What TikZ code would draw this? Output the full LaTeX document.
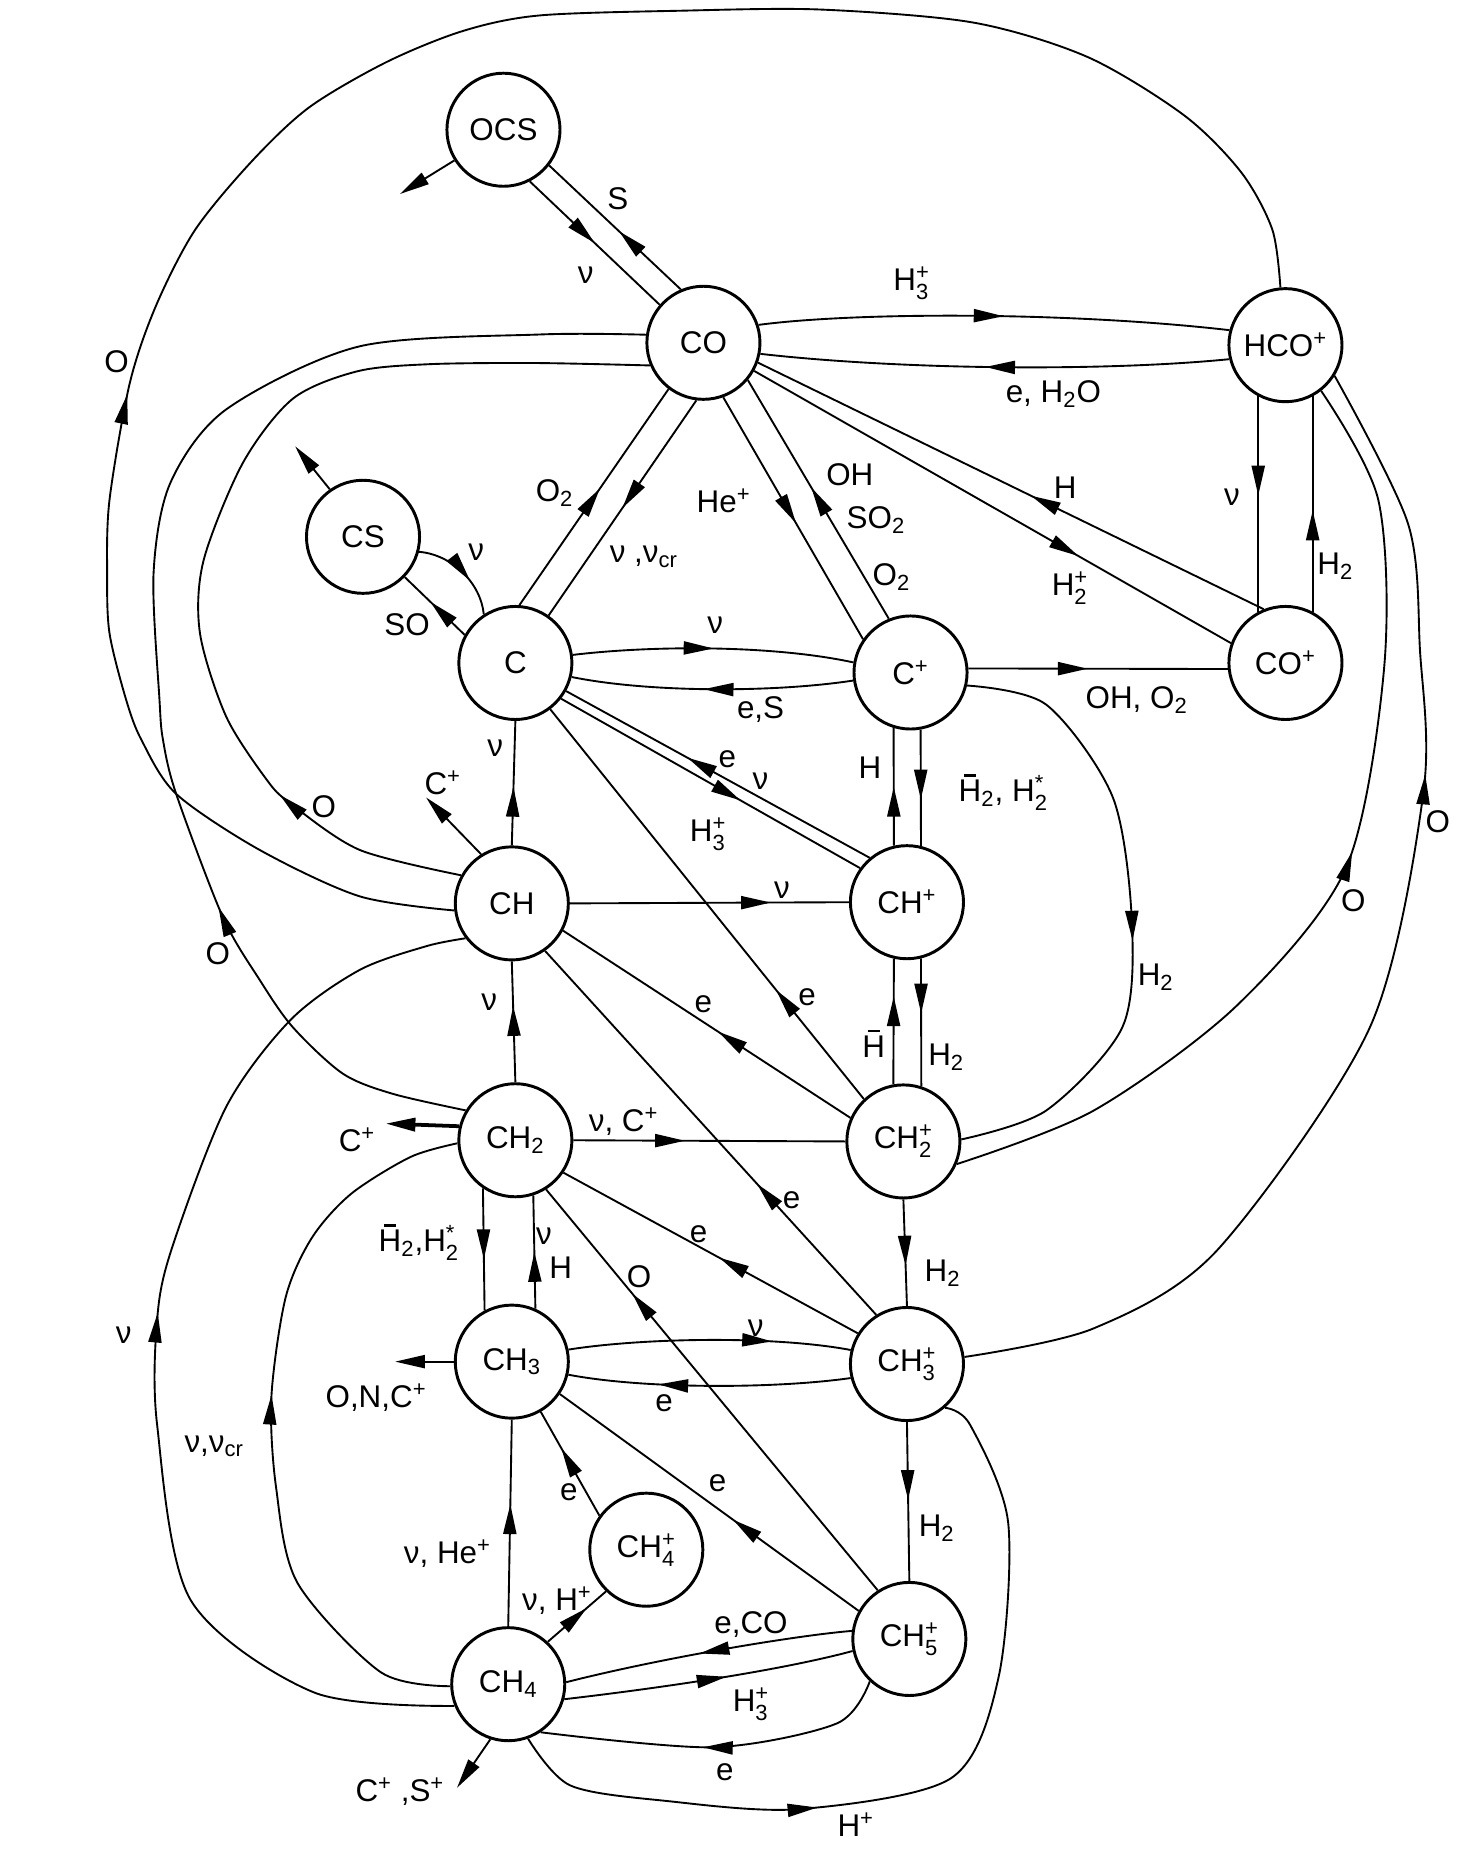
\documentclass[tikz,border=0pt]{standalone}
\usepackage{fontspec}
\usepackage{amsmath}
\setmainfont{Liberation Sans}
\usetikzlibrary{arrows.meta,decorations.markings}
\newcommand\chsub[1]{\ensuremath{_{\text{#1}}}}
\newcommand\chsup[1]{\ensuremath{^{\text{#1}}}}
\newcommand\chsubsup[2]{\ensuremath{_{\text{#1}}^{\text{#2}}}}
\newcommand\barH{\leavevmode\rlap{\hspace{0.17em}\raisebox{0.8em}{\rule{0.38em}{0.07em}}}H}
\begin{document}
\begin{tikzpicture}[x=0.2mm, y=-0.2mm, line width=0.9pt,
  font=\fontsize{15}{17}\selectfont,
  spec/.style={circle, draw, line width=1.4pt, minimum size=19mm, inner sep=0pt},
  lab/.style={inner sep=0pt},
  flow/.style={postaction={decorate}, decoration={markings,
    mark=at position #1 with {\arrow{Triangle[length=5mm,width=2.2mm]}}}},
  stub/.style={-{Triangle[length=5mm,width=2.2mm]}}]
\useasboundingbox (0,0) rectangle (1240,1556);
% species
\node[spec] (nOCS) at (423,109) {OCS};
\node[spec] (nCO) at (591,288) {CO};
\node[spec] (nHCO) at (1080,290) {HCO\chsup{+}};
\node[spec] (nCS) at (305,451) {CS};
\node[spec] (nC) at (433,557) {C};
\node[spec] (nCp) at (765,565) {C\chsup{+}};
\node[spec] (nCOp) at (1080,557) {CO\chsup{+}};
\node[spec] (nCH) at (430,759) {CH};
\node[spec] (nCHp) at (762,758) {CH\chsup{+}};
\node[spec] (nCH2) at (433,958) {CH\chsub{2}};
\node[spec] (nCH2p) at (759,959) {CH\chsubsup{2}{+}};
\node[spec] (nCH3) at (430,1144) {CH\chsub{3}};
\node[spec] (nCH3p) at (762,1146) {CH\chsubsup{3}{+}};
\node[spec] (nCH4p) at (543,1302) {CH\chsubsup{4}{+}};
\node[spec] (nCH4) at (427,1415) {CH\chsub{4}};
\node[spec] (nCH5p) at (764,1377) {CH\chsubsup{5}{+}};
% free ends
\coordinate (eOCS) at (336,163);
\coordinate (eCS) at (248,375);
\coordinate (eCH) at (358,670);
\coordinate (eCH2) at (324,944);
\coordinate (eCH3) at (332,1144);
\coordinate (eCH4) at (384,1502);
% OCS, CO
\draw[stub] (nOCS.212) -- (eOCS);
\draw[flow=0.5] (nOCS.297) -- (nCO.139);
\draw[flow=0.47] (nCO.113) -- (nOCS.322);
\draw[flow=0.52] (nCO.18) .. controls (720,262) and (900,262) .. (nHCO.165);
\draw[flow=0.52] (nHCO.194) .. controls (930,312) and (760,311) .. (nCO.349);
\draw[flow=0.52] (nCO.290) -- (nCp.145);
\draw[flow=0.55] (nCp.112) -- (nCO.320);
\draw[flow=0.54] (nC.86) -- (nCO.233);
\draw[flow=0.5] (nCO.263) -- (nC.55);
\draw[flow=0.68] (nCO.331) -- (nCOp.160);
\draw[flow=0.46] (nCOp.112) -- (nCO.340);
\draw[flow=0.46] (nHCO.242) -- (nCOp.118);
\draw[flow=0.47] (nCOp.62) -- (nHCO.298);
% CS
\draw[stub] (nCS.125) -- (eCS);
\draw[flow=0.62] (nCS.345) .. controls (380,466) and (404,490) .. (nC.123);
\draw[flow=0.57] (nC.151) -- (nCS.316);
% C, C+
\draw[flow=0.5] (nC.8) .. controls (550,542) and (650,542) .. (nCp.170);
\draw[flow=0.53] (nCp.188) .. controls (650,582) and (545,582) .. (nC.346);
\draw[flow=0.46] (nCp.4) -- (nCOp.186);
\draw[flow=0.6] (nCHp.130) -- (nC.331);
\draw[flow=0.6] (nC.322) -- (nCHp.144);
\draw[flow=0.28] (nCH2p.133) -- (nC.307);
\draw[flow=0.5] (nCHp.103) -- (nCp.253);
\draw[flow=0.6] (nCp.280) -- (nCHp.76);
\draw[flow=0.54] plot[smooth] coordinates {(nCp.347) (879,592) (935,670) (951,775) (943,863) (879,933) (nCH2p.2)};
% CH, CH+
\draw[flow=0.47] (nCH.90) -- (nC.270);
\draw[flow=0.63] (nCH2.90) -- (nCH.270);
\draw[stub] (nCH.122) -- (eCH);
\draw[flow=0.72] (nCH.0) -- (nCHp.180);
\draw[flow=0.7] (nCH2p.100) -- (nCHp.257);
\draw[flow=0.43] (nCHp.284) -- (nCH2p.72);
\draw[flow=0.46] (nCH2p.156) -- (nCH.332);
\draw[flow=0.36] (nCH3p.122) -- (nCH.305);
% long curves on the left
\draw[flow=0.33] plot[smooth] coordinates {(nCH.187) (302,753) (218,714) (148,667) (119,622) (106,588) (92,532) (90,482) (92,420) (109,322) (131,257) (164,193) (212,135) (260,90) (325,52) (389,26) (453,13) (572,9) (689,8) (818,19) (914,48) (995,97) (1043,145) (1069,193) (nHCO.95)};
\draw[flow=0.26] plot[smooth] coordinates {(nCH2.149) (330,919) (288,902) (246,863) (218,823) (187,770) (148,667) (137,622) (134,588) (129,482) (143,406) (190,344) (302,291) (454,281) (nCO.172)};
\draw[flow=0.2] plot[smooth] coordinates {(nCH.151) (302,714) (244,675) (224,655) (190,602) (168,532) (171,471) (204,389) (246,335) (300,312) (360,306) (450,305) (nCO.203)};
\draw[flow=0.53] plot[smooth] coordinates {(nCH4.202) (264,1422) (160,1344) (132,1197) (132,1109) (144,1050) (190,930) (244,857) (302,815) (358,795) (nCH.217)};
\draw[flow=0.53] plot[smooth] coordinates {(nCH4.182) (320,1405) (250,1330) (232,1250) (228,1174) (240,1090) (262,1040) (295,1003) (345,972) (nCH2.183)};
% long curves on the right
\draw[flow=0.52] plot[smooth] coordinates {(nCH2p.337) (919,933) (1039,845) (1131,729) (1163,560) (1158,420) (nHCO.308)};
\draw[flow=0.66] plot[smooth] coordinates {(nCH3p.7) (919,1116) (1023,1050) (1151,863) (1196,665) (1193,546) (1183,440) (nHCO.328)};
% CH2, CH2+
\draw[stub, line width=1.8pt] (nCH2.166) -- (eCH2);
\draw[flow=0.41] (nCH2.0) -- (nCH2p.180);
\draw[flow=0.47] (nCH3p.148) -- (nCH2.326);
\draw[flow=0.58] (nCH2.236) -- (nCH3.118);
\draw[flow=0.5] (nCH3.66) -- (nCH2.288);
\draw[flow=0.74] (nCH5p.123) -- (nCH2.302);
\draw[flow=0.62] (nCH2p.270) -- (nCH3p.90);
% CH3, CH3+
\draw[flow=0.72] (nCH3.12) .. controls (540,1124) and (650,1122) .. (nCH3p.166);
\draw[flow=0.68] (nCH3p.194) .. controls (650,1167) and (540,1167) .. (nCH3.347);
\draw[stub] (nCH3.180) -- (eCH3);
\draw[flow=0.49] (nCH3p.270) -- (nCH5p.90);
% CH4, CH4+, CH5+
\draw[flow=0.59] (nCH4.90) -- (nCH3.270);
\draw[flow=0.67] (nCH4.47) -- (nCH4p.226);
\draw[flow=0.65] (nCH4p.144) -- (nCH3.300);
\draw[flow=0.42] (nCH5p.151) -- (nCH3.326);
\draw[flow=0.53] (nCH5p.172) .. controls (670,1374) and (560,1392) .. (nCH4.2);
\draw[flow=0.56] (nCH4.345) .. controls (540,1420) and (650,1405) .. (nCH5p.192);
\draw[flow=0.54] plot[smooth] coordinates {(nCH5p.227) (703,1448) (599,1468) (nCH4.304)};
\draw[flow=0.365] plot[smooth] coordinates {(nCH4.290) (479,1500) (559,1513) (671,1520) (799,1494) (839,1409) (847,1279) (815,1197) (nCH3p.311)};
\draw[stub] (nCH4.252) -- (eCH4);
% labels
\node[lab] (t1) at (492,231) {ν};
\node[lab] (t2) at (519,167) {S};
\node[lab] (t3) at (766,238) {H\chsubsup{3}{+}};
\node[lab] (t4) at (885,331) {e, H\chsub{2}O};
\node[lab] (t5) at (466,414) {O\chsub{2}};
\node[lab] (t6) at (541,468) {ν ,ν\chsub{cr}};
\node[lab] (t7) at (608,421) {He\chsup{+}};
\node[lab] (t8) at (714,399) {OH};
\node[lab] (t9) at (736,437) {SO\chsub{2}};
\node[lab] (t10) at (749,485) {O\chsub{2}};
\node[lab] (t11) at (895,410) {H};
\node[lab] (t12) at (899,494) {H\chsubsup{2}{+}};
\node[lab] (t13) at (1035,418) {ν};
\node[lab] (t14) at (1122,476) {H\chsub{2}};
\node[lab] (t15) at (400,464) {ν};
\node[lab] (t16) at (342,525) {SO};
\node[lab] (t17) at (601,525) {ν};
\node[lab] (t18) at (639,596) {e,S};
\node[lab] (t19) at (955,588) {OH, O\chsub{2}};
\node[lab] (t20) at (611,638) {e};
\node[lab] (t21) at (639,656) {ν};
\node[lab] (t22) at (595,701) {H\chsubsup{3}{+}};
\node[lab] (t23) at (731,645) {H};
\node[lab] (t24) at (843,666) {\barH\chsub{2}, H\chsubsup{2}{*}};
\node[lab] (t25) at (416,629) {ν};
\node[lab] (t26) at (372,658) {C\chsup{+}};
\node[lab] (t27) at (272,678) {O};
\node[lab] (t28) at (98,304) {O};
\node[lab] (t29) at (657,748) {ν};
\node[lab] (t30) at (183,801) {O};
\node[lab] (t31) at (411,842) {ν};
\node[lab] (t32) at (591,844) {e};
\node[lab] (t33) at (678,838) {e};
\node[lab] (t34) at (734,877) {\barH};
\node[lab] (t35) at (795,888) {H\chsub{2}};
\node[lab] (t36) at (971,821) {H\chsub{2}};
\node[lab] (t37) at (1137,757) {O};
\node[lab] (t38) at (1208,690) {O};
\node[lab] (t39) at (300,958) {C\chsup{+}};
\node[lab] (t40) at (524,942) {ν, C\chsup{+}};
\node[lab] (t41) at (665,1008) {e};
\node[lab] (t42) at (587,1037) {e};
\node[lab] (t43) at (352,1044) {\barH\chsub{2},H\chsubsup{2}{*}};
\node[lab] (t44) at (457,1039) {ν};
\node[lab] (t45) at (471,1065) {H};
\node[lab] (t46) at (537,1073) {O};
\node[lab] (t47) at (792,1070) {H\chsub{2}};
\node[lab] (t48) at (635,1116) {ν};
\node[lab] (t49) at (558,1179) {e};
\node[lab] (t50) at (316,1174) {O,N,C\chsup{+}};
\node[lab] (t51) at (180,1215) {ν,ν\chsub{cr}};
\node[lab] (t52) at (104,1122) {ν};
\node[lab] (t53) at (478,1254) {e};
\node[lab] (t54) at (603,1246) {e};
\node[lab] (t55) at (787,1284) {H\chsub{2}};
\node[lab] (t56) at (376,1305) {ν, He\chsup{+}};
\node[lab] (t57) at (468,1345) {ν, H\chsup{+}};
\node[lab] (t58) at (631,1365) {e,CO};
\node[lab] (t59) at (631,1432) {H\chsubsup{3}{+}};
\node[lab] (t60) at (609,1489) {e};
\node[lab] (t61) at (336,1505) {C\chsup{+} ,S\chsup{+}};
\node[lab] (t62) at (719,1533) {H\chsup{+}};
\end{tikzpicture}
\end{document}
